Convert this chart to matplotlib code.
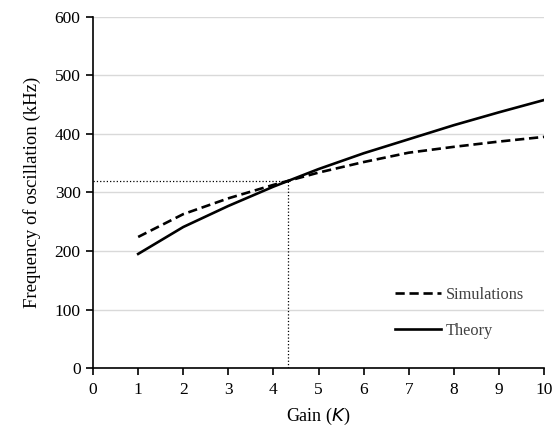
import matplotlib
matplotlib.use("Agg")
import matplotlib.pyplot as plt

# values
gain = [1, 2, 3, 4, 5, 6, 7, 8, 9, 10]
sim_khz = [224, 263, 290, 313, 334, 352, 368, 378, 387, 395]
theory_khz = [195, 241, 277, 310, 340, 367, 391, 415, 437, 458]
k_cross, f_cross = 4.33, 320

plt.rcParams.update({"font.family": ["Liberation Serif", "DejaVu Serif"], "font.size": 12})

fig = plt.figure(figsize=(5.54, 4.34), dpi=100)
ax = fig.add_axes([0.168, 0.152, 0.814, 0.809])

ax.plot(gain, sim_khz, color="black", lw=1.9, ls=(0, (3.5, 1.8)), label="Simulations")
ax.plot(gain, theory_khz, color="black", lw=1.9, label="Theory")

# dotted guide lines to the crossing point
ax.plot([0, k_cross], [f_cross, f_cross], color="black", lw=0.9, ls=":")
ax.plot([k_cross, k_cross], [0, f_cross], color="black", lw=0.9, ls=":")

ax.set_xlim(0, 10)
ax.set_ylim(0, 600)
ax.set_xticks(range(0, 11))
ax.set_yticks(range(0, 601, 100))
ax.yaxis.grid(True, color="#d9d9d9", lw=1)
ax.set_axisbelow(True)
ax.spines[["top", "right"]].set_visible(False)
ax.spines[["left", "bottom"]].set_linewidth(1.2)
ax.tick_params(direction="out", length=5, width=1.2, colors="black", labelsize=12.5)
ax.tick_params(axis="x", pad=5)
ax.tick_params(axis="y", pad=4)

ax.set_xlabel("Gain ($K$)", fontsize=13, labelpad=6)
ax.set_ylabel("Frequency of oscillation (kHz)", fontsize=13.5, labelpad=10)

leg = ax.legend(loc="center left", bbox_to_anchor=(0.67, 0.157), frameon=False,
                handlelength=2.8, handletextpad=0.3, labelspacing=1.2,
                borderpad=0, borderaxespad=0, fontsize=11.8)
for t in leg.get_texts():
    t.set_color("#404040")

fig.savefig("out.png", dpi=100, facecolor="white")
